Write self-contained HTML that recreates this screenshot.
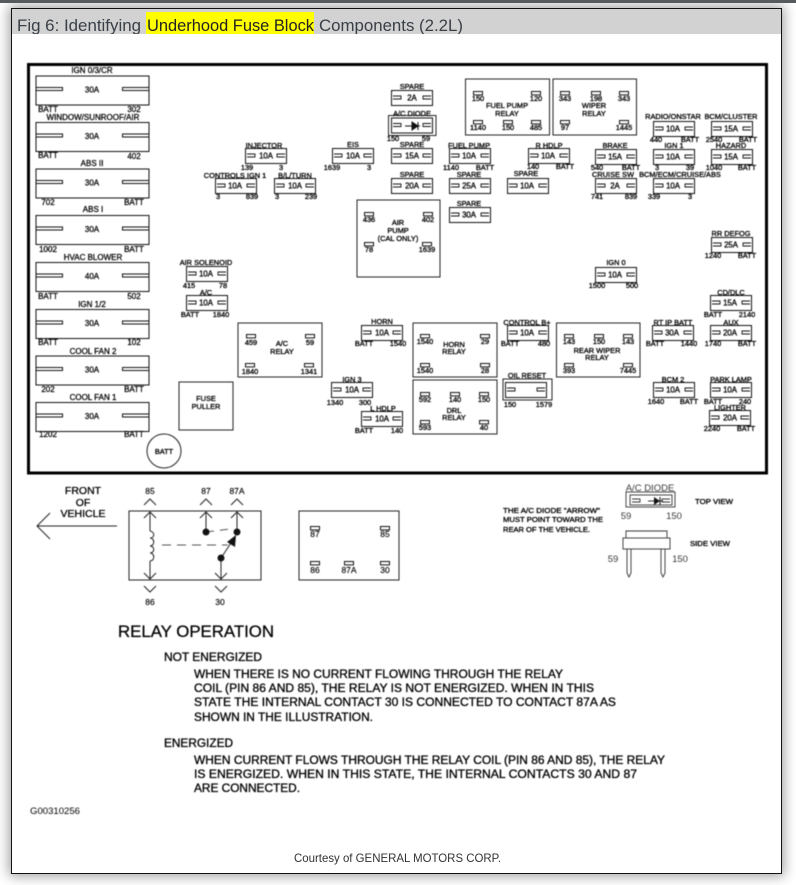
<!DOCTYPE html>
<html><head><meta charset="utf-8"><title>Fig 6</title>
<style>
html,body{margin:0;padding:0;background:#fff;width:796px;height:885px;overflow:hidden}
#top{position:absolute;left:0;top:0;width:796px;height:3px;background:#555a5e;z-index:2}
#box{position:absolute;left:11px;top:8px;width:769px;height:864px;border:1.5px solid #111;background:#fff;box-shadow:0 0 12px 2px rgba(0,0,0,.38)}
svg{position:absolute;left:0;top:0}
text{font-family:"Liberation Sans",sans-serif;fill:#000}
.d{filter:blur(.4px)}
.l text,.l{font-size:7.4px;text-anchor:middle;stroke:#000;stroke-width:.32}
.a{font-size:7.8px;text-anchor:middle;stroke:#000;stroke-width:.32}
.b{font-size:8px;text-anchor:middle;stroke:#000;stroke-width:.28}
.m{font-size:12.4px;stroke:#000;stroke-width:.32}
</style></head><body>
<div id="top"></div><div id="box"></div>
<svg width="796" height="885" viewBox="0 0 796 885" xmlns="http://www.w3.org/2000/svg">
<defs>
<g id="f" fill="none" stroke="#111" stroke-width="1"><rect x=".5" y=".5" width="41" height="15"/><path d="M2 6h8v3H2M40 6h-8v3h8" stroke-width=".9"/></g>
<g id="F" fill="none" stroke="#111" stroke-width="1"><rect x=".5" y=".5" width="113" height="29"/><path d="M1 12h26v3H1M113 12H87v3h26" stroke-width="1"/></g>
<rect id="p" x="-4.5" y="-1.5" width="9" height="3.4" fill="#fff" stroke="#111" stroke-width="1"/>
</defs>
<rect x="12" y="9" width="769" height="25" fill="#d2d2d2"/>
<rect x="146" y="12" width="168" height="22" fill="#ff0"/>
<clipPath id="c"><rect x="12" y="9" width="769" height="25"/></clipPath>
<g clip-path="url(#c)" font-size="16.2">
<text x="17" y="31" style="fill:#3a4048" textLength="124" lengthAdjust="spacingAndGlyphs">Fig 6: Identifying</text>
<text x="147" y="31" style="fill:#222" textLength="167" lengthAdjust="spacingAndGlyphs">Underhood Fuse Block</text>
<text x="319" y="31" style="fill:#3a4048" textLength="144" lengthAdjust="spacingAndGlyphs">Components (2.2L)</text>
</g>
<g class="d">
<rect x="28.500" y="64.500" width="738" height="408.500" fill="none" stroke="#000" stroke-width="3"/>

<!-- large fuses -->
<g>
<use href="#F" x="35.500" y="75.500"/><use href="#F" x="35.500" y="122"/><use href="#F" x="35.500" y="168.500"/><use href="#F" x="35.500" y="215"/><use href="#F" x="35.500" y="262"/><use href="#F" x="35.500" y="309"/><use href="#F" x="35.500" y="355.500"/><use href="#F" x="35.500" y="402"/>
</g>
<g class="b">
<text x="92" y="73">IGN 0/3/CR</text><text x="93" y="120">WINDOW/SUNROOF/AIR</text><text x="92" y="166">ABS II</text><text x="93" y="212">ABS I</text><text x="93" y="260">HVAC BLOWER</text><text x="92" y="307">IGN 1/2</text><text x="93" y="354">COOL FAN 2</text><text x="93" y="400">COOL FAN 1</text>
<text x="92" y="92.500">30A</text><text x="92" y="139">30A</text><text x="92" y="185.500">30A</text><text x="92" y="232">30A</text><text x="92" y="279">40A</text><text x="92" y="326">30A</text><text x="92" y="372.500">30A</text><text x="92" y="419">30A</text>
<text x="48" y="112">BATT</text><text x="134" y="112">302</text>
<text x="48" y="158">BATT</text><text x="134" y="159">402</text>
<text x="48" y="205">702</text><text x="134" y="205">BATT</text>
<text x="48" y="252">1002</text><text x="134" y="252">BATT</text>
<text x="48" y="299">BATT</text><text x="134" y="299">502</text>
<text x="48" y="345">BATT</text><text x="134" y="345">102</text>
<text x="48" y="392">202</text><text x="134" y="392">BATT</text>
<text x="48" y="437">1202</text><text x="134" y="437">BATT</text>
</g>

<!-- small fuses -->
<g>
<use href="#f" x="391" y="90"/><use href="#f" x="391" y="117.500"/><use href="#f" x="391" y="148"/><use href="#f" x="391" y="178"/>
<use href="#f" x="332" y="148"/><use href="#f" x="245" y="148"/><use href="#f" x="215" y="178"/><use href="#f" x="274" y="178"/>
<use href="#f" x="449" y="148"/><use href="#f" x="449" y="178"/><use href="#f" x="449" y="207"/><use href="#f" x="507" y="178"/><use href="#f" x="528" y="148"/>
<use href="#f" x="595" y="149"/><use href="#f" x="595" y="178"/><use href="#f" x="653" y="149"/><use href="#f" x="653" y="178"/><use href="#f" x="653" y="121"/>
<use href="#f" x="711" y="121"/><use href="#f" x="711" y="149"/><use href="#f" x="711" y="237"/><use href="#f" x="595" y="267"/>
<use href="#f" x="186" y="266"/><use href="#f" x="186" y="295"/><use href="#f" x="361" y="325"/><use href="#f" x="331" y="382"/><use href="#f" x="361" y="411"/>
<use href="#f" x="507" y="325"/><use href="#f" x="505" y="382"/><use href="#f" x="652" y="325"/><use href="#f" x="710" y="295"/><use href="#f" x="710" y="325"/><use href="#f" x="653" y="382"/><use href="#f" x="710" y="382"/><use href="#f" x="709" y="410"/>
<rect x="388.500" y="115.500" width="47.500" height="20" fill="none" stroke="#222"/>
<rect x="503" y="379" width="49" height="21" fill="none" stroke="#222"/>
<path d="M405 126h7M412 122l6 4-6 4zM418 122v8M418 126h2" fill="#111" stroke="#111"/>
</g>
<g class="a">
<text x="412" y="100.500">2A</text><text x="412" y="158.500">15A</text><text x="412" y="188.500">20A</text>
<text x="353" y="158.500">10A</text><text x="266" y="158.500">10A</text><text x="235" y="188.500">10A</text><text x="295" y="188.500">10A</text>
<text x="469" y="158.500">10A</text><text x="469" y="188.500">25A</text><text x="469" y="217.500">30A</text><text x="527" y="188.500">10A</text><text x="548" y="158.500">10A</text>
<text x="615" y="159.500">15A</text><text x="615" y="188.500">2A</text><text x="673" y="159.500">10A</text><text x="673" y="188.500">10A</text><text x="673" y="131.500">10A</text>
<text x="731" y="131.500">15A</text><text x="731" y="159.500">15A</text><text x="731" y="247.500">25A</text><text x="615" y="277.500">10A</text>
<text x="206" y="276.500">10A</text><text x="206" y="305.500">10A</text><text x="382" y="335.500">10A</text><text x="352" y="392.500">10A</text><text x="382" y="421.500">10A</text>
<text x="527" y="335.500">10A</text><text x="672" y="335.500">30A</text><text x="730" y="305.500">15A</text><text x="730" y="335.500">20A</text><text x="673" y="392.500">10A</text><text x="730" y="392.500">10A</text><text x="730" y="420.500">20A</text>
</g>
<g class="l">
<text x="412" y="89">SPARE</text><text x="412" y="116">A/C DIODE</text><text x="412" y="147">SPARE</text><text x="412" y="177">SPARE</text>
<text x="353" y="147">EIS</text><text x="264" y="148">INJECTOR</text><text x="235" y="178">CONTROLS IGN 1</text><text x="295" y="178">B/L/TURN</text>
<text x="469" y="148">FUEL PUMP</text><text x="469" y="177">SPARE</text><text x="469" y="206">SPARE</text><text x="526" y="176">SPARE</text><text x="549" y="148">R HDLP</text>
<text x="615" y="148">BRAKE</text><text x="613" y="177">CRUISE SW</text><text x="674" y="148">IGN 1</text><text x="680" y="177">BCM/ECM/CRUISE/ABS</text><text x="673" y="119">RADIO/ONSTAR</text>
<text x="731" y="119">BCM/CLUSTER</text><text x="731" y="148">HAZARD</text><text x="731" y="236">RR DEFOG</text><text x="616" y="265">IGN 0</text>
<text x="206" y="265">AIR SOLENOID</text><text x="206" y="295">A/C</text><text x="382" y="324">HORN</text><text x="352" y="382">IGN 3</text><text x="383" y="411">L HDLP</text>
<text x="527" y="325">CONTROL B+</text><text x="527" y="378">OIL RESET</text><text x="673" y="325">RT IP BATT</text><text x="731" y="295">CD/DLC</text><text x="731" y="325">AUX</text><text x="673" y="382">BCM 2</text><text x="731" y="382">PARK LAMP</text><text x="730" y="410">LIGHTER</text>
<!-- pin labels -->
<text x="393" y="141">150</text><text x="426" y="141">59</text>
<text x="332" y="170">1639</text><text x="369" y="170">3</text><text x="247" y="170">139</text><text x="281" y="170">3</text>
<text x="218" y="199">3</text><text x="252" y="199">839</text><text x="277" y="199">3</text><text x="311" y="199">239</text>
<text x="451" y="170">1140</text><text x="485" y="170">BATT</text><text x="533" y="169">140</text><text x="565" y="169">BATT</text>
<text x="597" y="170">540</text><text x="631" y="170">BATT</text><text x="597" y="199">741</text><text x="631" y="199">839</text>
<text x="657" y="170">3</text><text x="690" y="170">39</text><text x="654" y="199">339</text><text x="690" y="199">3</text><text x="656" y="142">440</text><text x="690" y="142">BATT</text>
<text x="714" y="142">2540</text><text x="748" y="142">BATT</text><text x="714" y="170">1040</text><text x="747" y="170">BATT</text><text x="713" y="258">1240</text><text x="747" y="258">BATT</text>
<text x="597" y="288">1500</text><text x="632" y="288">500</text><text x="189" y="288">415</text><text x="223" y="288">78</text><text x="190" y="317">BATT</text><text x="221" y="317">1840</text>
<text x="364" y="346">BATT</text><text x="398" y="346">1540</text><text x="335" y="405">1340</text><text x="365" y="405">300</text><text x="364" y="433">BATT</text><text x="397" y="433">140</text>
<text x="510" y="346">BATT</text><text x="544" y="346">480</text><text x="510" y="407">150</text><text x="544" y="407">1579</text><text x="655" y="346">BATT</text><text x="689" y="346">1440</text>
<text x="713" y="317">BATT</text><text x="747" y="317">2140</text><text x="713" y="346">1740</text><text x="747" y="346">BATT</text><text x="656" y="404">1640</text><text x="689" y="404">BATT</text><text x="713" y="404">BATT</text><text x="745" y="404">240</text><text x="712" y="431">2240</text><text x="746" y="431">BATT</text>
</g>

<!-- relays -->
<g fill="none" stroke="#222" stroke-width="1">
<rect x="465.500" y="79" width="84" height="56"/><rect x="553" y="79" width="83.500" height="56"/><rect x="357" y="200" width="83" height="77"/>
<rect x="179" y="382" width="54" height="48"/><circle cx="164" cy="451" r="17"/>
<rect x="238" y="323" width="84" height="54"/><rect x="413" y="323" width="84" height="54"/><rect x="413" y="380" width="84" height="54"/><rect x="556.500" y="323" width="83.500" height="54"/>
</g>
<g>
<use href="#p" x="478" y="93"/><use href="#p" x="536" y="93"/><use href="#p" x="478" y="122"/><use href="#p" x="508" y="122"/><use href="#p" x="536" y="122"/>
<use href="#p" x="565" y="93"/><use href="#p" x="596" y="93"/><use href="#p" x="624" y="93"/><use href="#p" x="565" y="122"/><use href="#p" x="624" y="122"/>
<use href="#p" x="369" y="214"/><use href="#p" x="428" y="214"/><use href="#p" x="369" y="244"/><use href="#p" x="427" y="244"/>
<use href="#p" x="251" y="336"/><use href="#p" x="310" y="336"/><use href="#p" x="250" y="365"/><use href="#p" x="309" y="365"/>
<use href="#p" x="425" y="336"/><use href="#p" x="485" y="336"/><use href="#p" x="425" y="365"/><use href="#p" x="485" y="365"/>
<use href="#p" x="425" y="394"/><use href="#p" x="455" y="394"/><use href="#p" x="484" y="394"/><use href="#p" x="425" y="422"/><use href="#p" x="484" y="422"/>
<use href="#p" x="569" y="336"/><use href="#p" x="599" y="336"/><use href="#p" x="628" y="336"/><use href="#p" x="569" y="365"/><use href="#p" x="628" y="365"/>
<use href="#p" x="315" y="528"/><use href="#p" x="385" y="528"/><use href="#p" x="315" y="563"/><use href="#p" x="349" y="563"/><use href="#p" x="385" y="563"/>
</g>
<g class="l">
<text x="478" y="101">150</text><text x="536" y="101">120</text><text x="478" y="130">1140</text><text x="508" y="130">150</text><text x="536" y="130">485</text><text x="507" y="108">FUEL PUMP</text><text x="507" y="116">RELAY</text>
<text x="565" y="101">343</text><text x="596" y="101">198</text><text x="624" y="101">343</text><text x="565" y="130">97</text><text x="624" y="130">1445</text><text x="594" y="108">WIPER</text><text x="594" y="116">RELAY</text>
<text x="369" y="222">436</text><text x="428" y="222">402</text><text x="369" y="252">78</text><text x="427" y="252">1639</text><text x="398" y="225">AIR</text><text x="398" y="233">PUMP</text><text x="398" y="241">(CAL ONLY)</text>
<text x="206" y="401">FUSE</text><text x="206" y="409">PULLER</text><text x="164" y="454">BATT</text>
<text x="251" y="345">459</text><text x="310" y="345">59</text><text x="250" y="374">1840</text><text x="309" y="374">1341</text><text x="282" y="346">A/C</text><text x="282" y="354">RELAY</text>
<text x="425" y="344">1540</text><text x="485" y="344">29</text><text x="425" y="373">1540</text><text x="485" y="373">28</text><text x="454" y="347">HORN</text><text x="454" y="354">RELAY</text>
<text x="425" y="402">592</text><text x="455" y="402">140</text><text x="484" y="402">150</text><text x="425" y="430">593</text><text x="484" y="430">40</text><text x="454" y="413">DRL</text><text x="454" y="420">RELAY</text>
<text x="569" y="344">143</text><text x="599" y="344">150</text><text x="628" y="344">143</text><text x="569" y="373">393</text><text x="628" y="373">7445</text><text x="597" y="353">REAR WIPER</text><text x="597" y="360">RELAY</text>
</g>

<!-- relay schematic -->
<g font-size="10.500" text-anchor="middle" stroke="#000" stroke-width=".3">
<text x="83" y="494">FRONT</text><text x="83" y="506">OF</text><text x="83" y="517">VEHICLE</text>
</g>
<path d="M117 526H37M50 513L37 526L50 539" fill="none" stroke="#222" stroke-width="1"/>
<rect x="129" y="511" width="132" height="69" fill="none" stroke="#222" stroke-width="1"/>
<g font-size="8.500" text-anchor="middle" stroke="#000" stroke-width=".15">
<text x="150" y="494">85</text><text x="206" y="494">87</text><text x="237" y="494">87A</text><text x="150" y="605">86</text><text x="220" y="605">30</text>
</g>
<g fill="none" stroke="#222" stroke-width="1">
<path d="M144 505l6-6 6 6M200 505l6-6 6 6M231 505l6-6 6 6M144 586l6 6 6-6M215 586l6 6 6-6"/>
<path d="M144 518l6-6 6 6M200 518l6-6 6 6M231 518l6-6 6 6M144 573l6 6 6-6M215 573l6 6 6-6"/>
<path d="M150 512v19M150 561v18M206 512v20M237 512v20M221 558v21"/>
<path d="M150 531c5 1 5 7 0 7c5 0 5 8 0 8c5 0 5 7 0 7c5 0 5 8 0 8"/>
<path d="M162 545h66" stroke="#555" stroke-dasharray="9 6"/>
<path d="M206 532l24-3" stroke="#555" stroke-dasharray="8 6"/>
<path d="M221 558l12-18"/>
</g>
<path d="M236 535l-1 12-8-5z" fill="#111"/>
<circle cx="206" cy="532" r="3.500" fill="#111"/><circle cx="237" cy="532" r="3.500" fill="#111"/><circle cx="221" cy="558" r="3.500" fill="#111"/>
<rect x="299" y="511" width="100" height="69" fill="none" stroke="#222" stroke-width="1"/>
<g font-size="8.500" text-anchor="middle" stroke="#000" stroke-width=".15">
<text x="315" y="537">87</text><text x="385" y="537">85</text><text x="315" y="573">86</text><text x="349" y="573">87A</text><text x="385" y="573">30</text>
</g>

<!-- note and diode -->
<g font-size="7.200" stroke="#000" stroke-width=".32">
<text x="503" y="513" textLength="97" lengthAdjust="spacingAndGlyphs">THE A/C DIODE "ARROW"</text>
<text x="503" y="522" textLength="100" lengthAdjust="spacingAndGlyphs">MUST POINT TOWARD THE</text>
<text x="503" y="532" textLength="87" lengthAdjust="spacingAndGlyphs">REAR OF THE VEHICLE.</text>
<text x="695" y="504" textLength="38" lengthAdjust="spacingAndGlyphs">TOP VIEW</text>
<text x="690" y="546" textLength="40" lengthAdjust="spacingAndGlyphs">SIDE VIEW</text>
</g>
<g font-size="9.500" text-anchor="middle" style="opacity:.8">
<text x="650" y="491">A/C DIODE</text><text x="626" y="519">59</text><text x="674" y="519">150</text><text x="613" y="562">59</text><text x="680" y="562">150</text>
</g>
<g fill="none" stroke="#333" stroke-width=".9">
<rect x="626" y="492" width="49" height="15"/><rect x="630" y="495" width="42" height="10"/>
<path d="M632 499h8v3h-8M670 499h-8v3h8M648 501h6M660 501h3"/>
<path d="M626 538v-7h41v7"/>
<rect x="623" y="538" width="47" height="11" fill="#fff"/>
<path d="M627 549v24l2 4 2-4v-24M661 549v24l2 4 2-4v-24"/>
</g>
<path d="M654 497l6 4-6 4z" fill="#111"/><path d="M660 497v8" stroke="#111"/>

<!-- text -->
<text x="118" y="637" font-size="17" textLength="156" lengthAdjust="spacingAndGlyphs" stroke="#000" stroke-width=".25">RELAY OPERATION</text>
<g class="m">
<text x="164" y="661" textLength="98" lengthAdjust="spacingAndGlyphs">NOT ENERGIZED</text>
<text x="194" y="678" textLength="369" lengthAdjust="spacingAndGlyphs">WHEN THERE IS NO CURRENT FLOWING THROUGH THE RELAY</text>
<text x="194" y="692" textLength="400" lengthAdjust="spacingAndGlyphs">COIL (PIN 86 AND 85), THE RELAY IS NOT ENERGIZED.  WHEN IN THIS</text>
<text x="194" y="706" textLength="422" lengthAdjust="spacingAndGlyphs">STATE THE INTERNAL CONTACT 30 IS CONNECTED TO CONTACT 87A AS</text>
<text x="194" y="721" textLength="179" lengthAdjust="spacingAndGlyphs">SHOWN IN THE ILLUSTRATION.</text>
<text x="164" y="747" textLength="69" lengthAdjust="spacingAndGlyphs">ENERGIZED</text>
<text x="194" y="764" textLength="471" lengthAdjust="spacingAndGlyphs">WHEN CURRENT FLOWS THROUGH THE RELAY COIL (PIN 86 AND 85), THE RELAY</text>
<text x="194" y="778" textLength="443" lengthAdjust="spacingAndGlyphs">IS ENERGIZED.  WHEN IN THIS STATE, THE INTERNAL CONTACTS 30 AND 87</text>
<text x="194" y="792" textLength="106" lengthAdjust="spacingAndGlyphs">ARE CONNECTED.</text>
</g>
<text x="30" y="814" font-size="9" textLength="50" lengthAdjust="spacingAndGlyphs">G00310256</text>
</g>
<text x="294" y="862" font-size="12" textLength="207" lengthAdjust="spacingAndGlyphs" style="fill:#333">Courtesy of GENERAL MOTORS CORP.</text>
</svg>
</body></html>
